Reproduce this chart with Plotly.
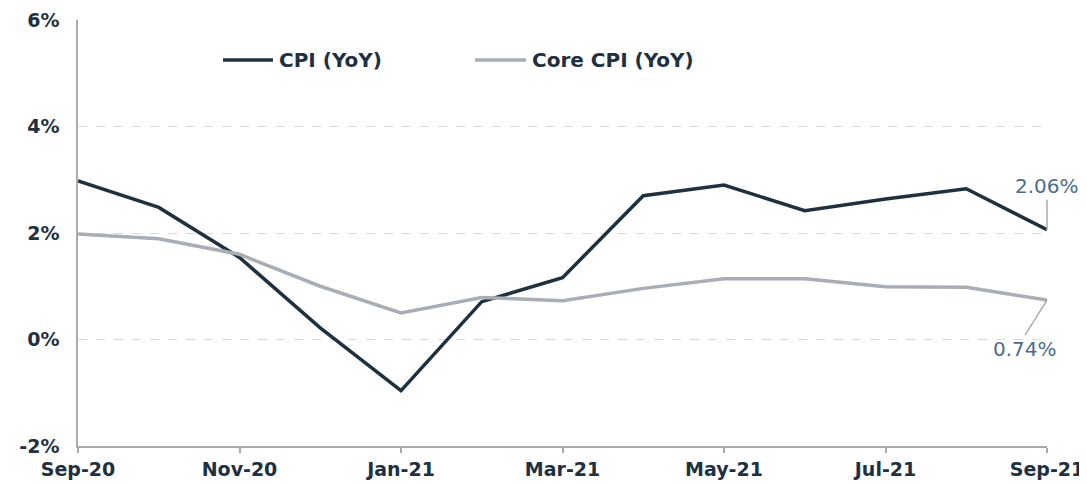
import plotly.graph_objects as go

months = ["Sep-20", "Oct-20", "Nov-20", "Dec-20", "Jan-21", "Feb-21", "Mar-21",
          "Apr-21", "May-21", "Jun-21", "Jul-21", "Aug-21", "Sep-21"]
cpi = [2.98, 2.48, 1.54, 0.22, -0.96, 0.71, 1.16, 2.70, 2.90, 2.42, 2.64, 2.83, 2.06]
core_cpi = [1.98, 1.89, 1.60, 1.00, 0.50, 0.79, 0.73, 0.96, 1.14, 1.14, 0.99, 0.98, 0.74]
series_names = ["CPI (YoY)", "Core CPI (YoY)"]
y_ticks = [-2, 0, 2, 4, 6]
y_labels = ["-2%", "0%", "2%", "4%", "6%"]
x_tick_labels = ["Sep-20", "Nov-20", "Jan-21", "Mar-21", "May-21", "Jul-21", "Sep-21"]

dark = "#1e3141"
grey = "#a8aeb4"
label_col = "#4b6d8e"
axis_col = "#aaaaaa"
x_idx = list(range(len(months)))
x_tick_idx = [months.index(m) for m in x_tick_labels]
font_family = "DejaVu Sans"

fig = go.Figure()
fig.add_trace(go.Scatter(x=x_idx, y=cpi, mode="lines", name=series_names[0],
                         line=dict(color=dark, width=3.5)))
fig.add_trace(go.Scatter(x=x_idx, y=core_cpi, mode="lines", name=series_names[1],
                         line=dict(color=grey, width=3.5)))

fig.update_layout(
    width=1087, height=484,
    margin=dict(l=70, r=48, t=12, b=46, autoexpand=False),
    plot_bgcolor="white", paper_bgcolor="white",
    font=dict(family=font_family, color=dark),
    showlegend=False,
    xaxis=dict(range=[0, 12], tickmode="array", tickvals=x_tick_idx, ticktext=x_tick_labels,
               showgrid=False, showline=True, linecolor=axis_col, linewidth=1.5,
               ticks="outside", ticklen=5, tickcolor=axis_col, tickwidth=1.5,
               tickfont=dict(family=font_family, size=19, color=dark, weight="bold"),
               zeroline=False, automargin=False),
    yaxis=dict(range=[-2, 6], tickmode="array", tickvals=y_ticks, ticktext=y_labels,
               showgrid=True, gridcolor="#d9d9d9", griddash="dash", gridwidth=1,
               showline=True, linecolor=axis_col, linewidth=1.5,
               ticks="", ticklabelstandoff=13,
               tickfont=dict(family=font_family, size=19, color=dark, weight="bold"),
               zeroline=False, automargin=False),
)

# legend drawn at the top of the plot area
legend_items = [(series_names[0], dark, 0.1496, 0.2012), (series_names[1], grey, 0.4097, 0.4623)]
leg_y = 0.906
for name, col, x0, x1 in legend_items:
    fig.add_shape(type="line", xref="paper", yref="paper", x0=x0, x1=x1, y0=leg_y, y1=leg_y,
                  line=dict(color=col, width=3.5))
    fig.add_annotation(xref="paper", yref="paper", x=x1 + 0.004, y=leg_y, text=name,
                       showarrow=False, xanchor="left", yanchor="middle",
                       font=dict(family=font_family, size=20, color=dark, weight="bold"))

fig.add_annotation(x=12, y=cpi[-1], text=f"{cpi[-1]:.2f}%", showarrow=True,
                   arrowhead=0, arrowwidth=1.5, arrowcolor=axis_col,
                   ax=0, ay=-30, font=dict(family=font_family, size=20, color=label_col),
                   xanchor="center", yanchor="bottom")
fig.add_annotation(x=12, y=core_cpi[-1], text=f"{core_cpi[-1]:.2f}%", showarrow=True,
                   arrowhead=0, arrowwidth=1.5, arrowcolor=axis_col,
                   ax=-22, ay=35, font=dict(family=font_family, size=20, color=label_col),
                   xanchor="center", yanchor="top")

fig.write_html("out.html")
